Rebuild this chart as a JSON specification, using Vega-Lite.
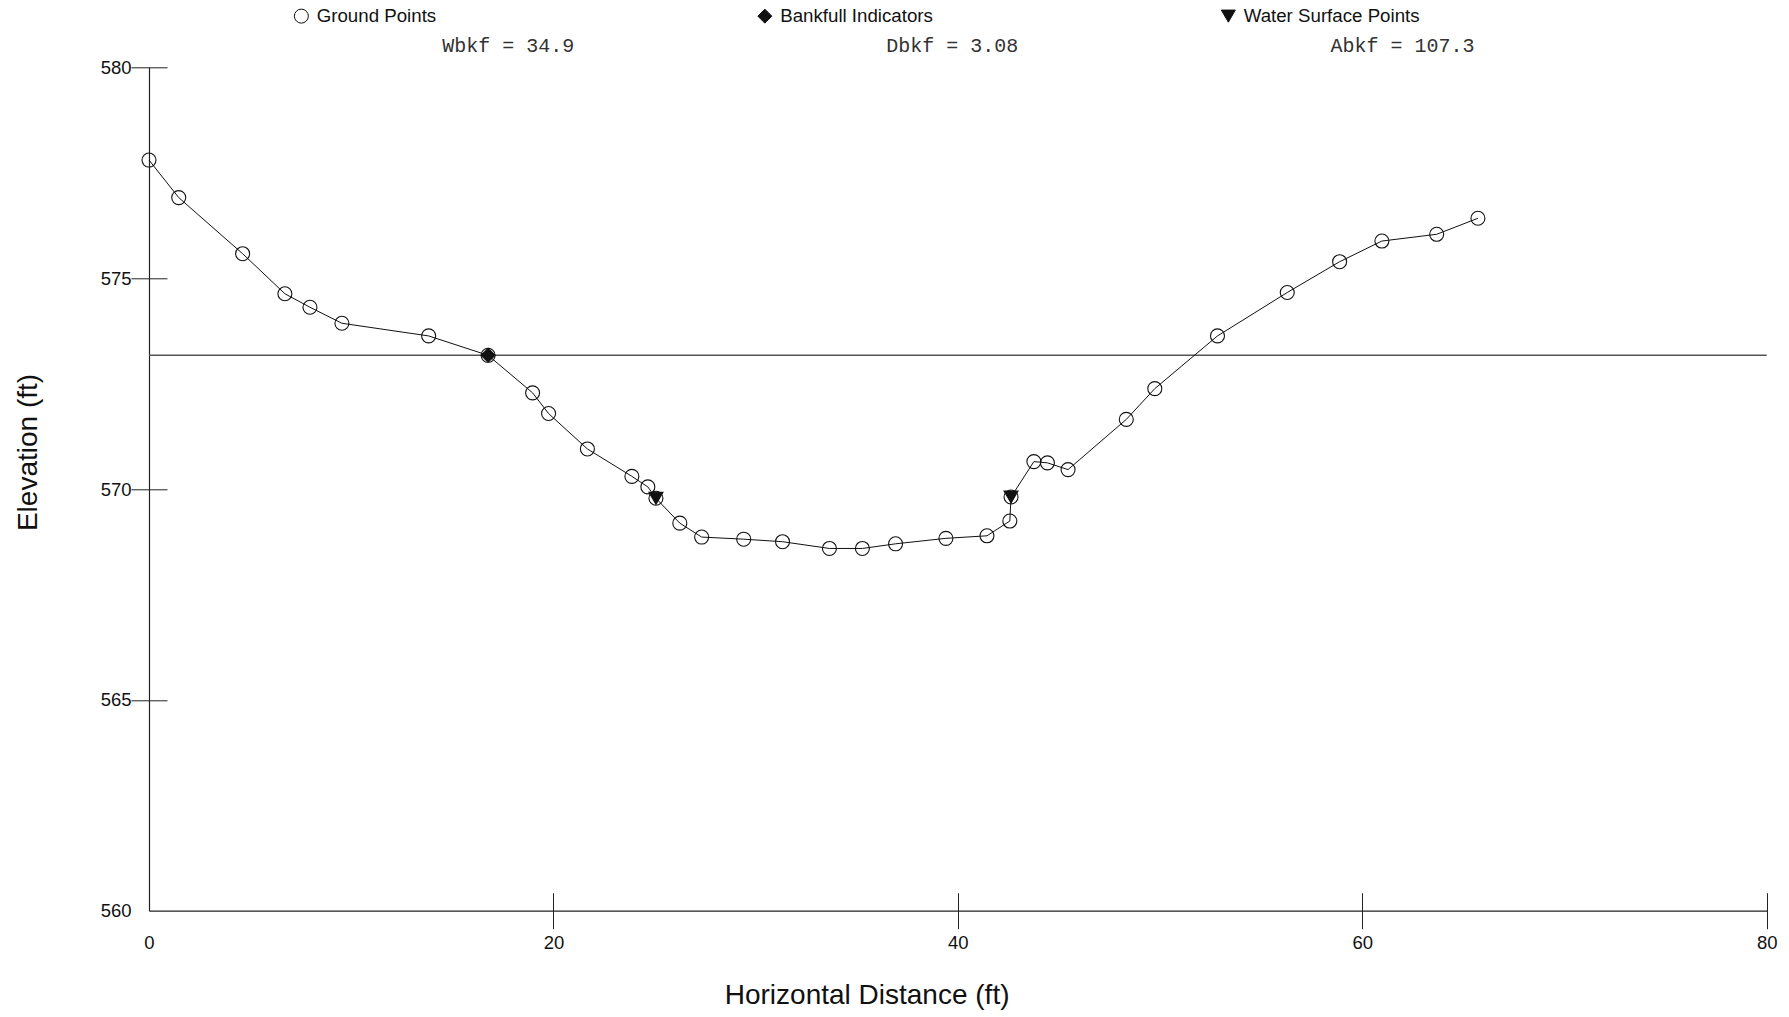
{
  "$schema": "https://vega.github.io/schema/vega-lite/v6.json",
  "width": 1617.7,
  "height": 843.4,
  "autosize": {"type": "none"},
  "padding": {"left": 149, "top": 67.3, "right": 22.3, "bottom": 106.3},
  "background": "white",
  "datasets": {
    "ground": [
      {"x": 0, "elev": 577.80, "type": "Ground Points"},
      {"x": 1.47, "elev": 576.91, "type": "Ground Points"},
      {"x": 4.63, "elev": 575.58, "type": "Ground Points"},
      {"x": 6.72, "elev": 574.63, "type": "Ground Points"},
      {"x": 7.96, "elev": 574.31, "type": "Ground Points"},
      {"x": 9.54, "elev": 573.93, "type": "Ground Points"},
      {"x": 13.83, "elev": 573.63, "type": "Ground Points"},
      {"x": 16.77, "elev": 573.17, "type": "Ground Points"},
      {"x": 18.97, "elev": 572.28, "type": "Ground Points"},
      {"x": 19.76, "elev": 571.79, "type": "Ground Points"},
      {"x": 21.68, "elev": 570.95, "type": "Ground Points"},
      {"x": 23.88, "elev": 570.30, "type": "Ground Points"},
      {"x": 24.67, "elev": 570.05, "type": "Ground Points"},
      {"x": 25.07, "elev": 569.78, "type": "Ground Points"},
      {"x": 26.25, "elev": 569.19, "type": "Ground Points"},
      {"x": 27.33, "elev": 568.86, "type": "Ground Points"},
      {"x": 29.41, "elev": 568.81, "type": "Ground Points"},
      {"x": 31.33, "elev": 568.75, "type": "Ground Points"},
      {"x": 33.65, "elev": 568.59, "type": "Ground Points"},
      {"x": 35.28, "elev": 568.59, "type": "Ground Points"},
      {"x": 36.92, "elev": 568.70, "type": "Ground Points"},
      {"x": 39.41, "elev": 568.83, "type": "Ground Points"},
      {"x": 41.44, "elev": 568.89, "type": "Ground Points"},
      {"x": 42.57, "elev": 569.24, "type": "Ground Points"},
      {"x": 42.63, "elev": 569.81, "type": "Ground Points"},
      {"x": 43.76, "elev": 570.65, "type": "Ground Points"},
      {"x": 44.43, "elev": 570.62, "type": "Ground Points"},
      {"x": 45.45, "elev": 570.46, "type": "Ground Points"},
      {"x": 48.33, "elev": 571.65, "type": "Ground Points"},
      {"x": 49.74, "elev": 572.38, "type": "Ground Points"},
      {"x": 52.84, "elev": 573.63, "type": "Ground Points"},
      {"x": 56.29, "elev": 574.66, "type": "Ground Points"},
      {"x": 58.88, "elev": 575.39, "type": "Ground Points"},
      {"x": 60.97, "elev": 575.88, "type": "Ground Points"},
      {"x": 63.68, "elev": 576.04, "type": "Ground Points"},
      {"x": 65.72, "elev": 576.42, "type": "Ground Points"}
    ],
    "markers": [
      {"x": 16.77, "elev": 573.17, "type": "Bankfull Indicators"},
      {"x": 25.07, "elev": 569.78, "type": "Water Surface Points"},
      {"x": 42.63, "elev": 569.81, "type": "Water Surface Points"}
    ],
    "bankfull": [
      {"elev": 573.17}
    ]
  },
  "layer": [
    {
      "data": {"name": "bankfull"},
      "mark": {"type": "rule", "color": "#555", "strokeWidth": 1.4},
      "encoding": {
        "y": {"field": "elev", "type": "quantitative", "scale": {"domain": [560, 580], "zero": false, "nice": false}, "axis": null}
      }
    },
    {
      "data": {"name": "ground"},
      "mark": {"type": "line", "color": "#111", "strokeWidth": 1},
      "encoding": {
        "x": {"field": "x", "type": "quantitative", "scale": {"domain": [0, 80], "nice": false, "zero": false},
          "axis": {"orient": "bottom", "offset": -18, "tickSize": 36, "domain": false, "labels": false, "title": null, "values": [20, 40, 60, 80], "tickColor": "#222", "tickWidth": 1}},
        "y": {"field": "elev", "type": "quantitative",
          "axis": {"orient": "left", "offset": -18, "tickSize": 36, "domain": false, "labels": false, "title": null, "values": [565, 570, 575, 580], "tickColor": "#222", "tickWidth": 1}}
      }
    },
    {
      "data": {"name": "ground"},
      "mark": {"type": "point", "filled": true, "strokeWidth": 1.1, "size": 196, "opacity": 1},
      "encoding": {
        "x": {"field": "x", "type": "quantitative",
          "axis": {"orient": "bottom", "ticks": false, "tickSize": 0, "domain": true, "domainColor": "#222", "domainWidth": 1.2, "labelPadding": 23, "values": [0, 20, 40, 60, 80], "title": "Horizontal Distance (ft)", "titleX": 717.6, "titleY": 71}},
        "y": {"field": "elev", "type": "quantitative",
          "axis": {"orient": "left", "ticks": false, "tickSize": 0, "domain": true, "domainColor": "#222", "domainWidth": 1.2, "labelPadding": 18, "values": [560, 565, 570, 575, 580], "title": "Elevation (ft)", "titleX": -107, "titleY": 384.7}},
        "shape": {"field": "type", "type": "nominal",
          "scale": {"domain": ["Ground Points", "Bankfull Indicators", "Water Surface Points"], "range": ["circle", "diamond", "triangle-down"]},
          "legend": {"orient": "none", "legendX": 143, "legendY": -61, "direction": "horizontal", "columns": 3, "gridAlign": "all", "columnPadding": 262.5, "labelLimit": 400, "labelOffset": 6, "symbolSize": 196, "symbolStrokeWidth": 1, "title": null}},
        "fill": {"field": "type", "type": "nominal",
          "scale": {"domain": ["Ground Points", "Bankfull Indicators", "Water Surface Points"], "range": ["transparent", "#111", "#111"]},
          "legend": {"orient": "none", "legendX": 143, "legendY": -61, "direction": "horizontal", "columns": 3, "gridAlign": "all", "columnPadding": 262.5, "labelLimit": 400, "labelOffset": 6, "symbolSize": 196, "symbolStrokeWidth": 1, "title": null}},
        "stroke": {"field": "type", "type": "nominal",
          "scale": {"domain": ["Ground Points", "Bankfull Indicators", "Water Surface Points"], "range": ["#111", "#111", "#111"]},
          "legend": {"orient": "none", "legendX": 143, "legendY": -61, "direction": "horizontal", "columns": 3, "gridAlign": "all", "columnPadding": 262.5, "labelLimit": 400, "labelOffset": 6, "symbolSize": 196, "symbolStrokeWidth": 1, "title": null}}
      }
    },
    {
      "data": {"name": "markers"},
      "mark": {"type": "point", "filled": true, "strokeWidth": 1.1, "size": 196, "opacity": 1},
      "encoding": {
        "x": {"field": "x", "type": "quantitative",
          "axis": {"orient": "top", "domain": false, "ticks": false, "labels": false, "title": "Wbkf = 34.9\u00a0\u00a0\u00a0\u00a0\u00a0\u00a0\u00a0\u00a0\u00a0\u00a0\u00a0\u00a0\u00a0\u00a0\u00a0\u00a0\u00a0\u00a0\u00a0\u00a0\u00a0\u00a0\u00a0\u00a0\u00a0\u00a0Dbkf = 3.08\u00a0\u00a0\u00a0\u00a0\u00a0\u00a0\u00a0\u00a0\u00a0\u00a0\u00a0\u00a0\u00a0\u00a0\u00a0\u00a0\u00a0\u00a0\u00a0\u00a0\u00a0\u00a0\u00a0\u00a0\u00a0\u00a0Abkf = 107.3", "titleFont": "Liberation Mono", "titleFontSize": 20, "titleFontWeight": "normal", "titlePadding": 12, "titleColor": "#333"}},
        "y": {"field": "elev", "type": "quantitative", "axis": null},
        "shape": {"field": "type", "type": "nominal"},
        "fill": {"field": "type", "type": "nominal"},
        "stroke": {"field": "type", "type": "nominal"}
      }
    }
  ],
  "resolve": {"axis": {"x": "independent", "y": "independent"}},
  "config": {
    "view": {"stroke": null},
    "font": "Liberation Sans",
    "axis": {
      "grid": false,
      "labelFont": "Liberation Sans",
      "labelFontSize": 18.5,
      "labelColor": "#111",
      "labelFlush": false,
      "labelOverlap": false,
      "titleFont": "Liberation Sans",
      "titleFontSize": 28,
      "titleFontWeight": "normal",
      "titleColor": "#111"
    },
    "legend": {
      "labelFont": "Liberation Sans",
      "labelFontSize": 18.7,
      "labelColor": "#111"
    }
  }
}
